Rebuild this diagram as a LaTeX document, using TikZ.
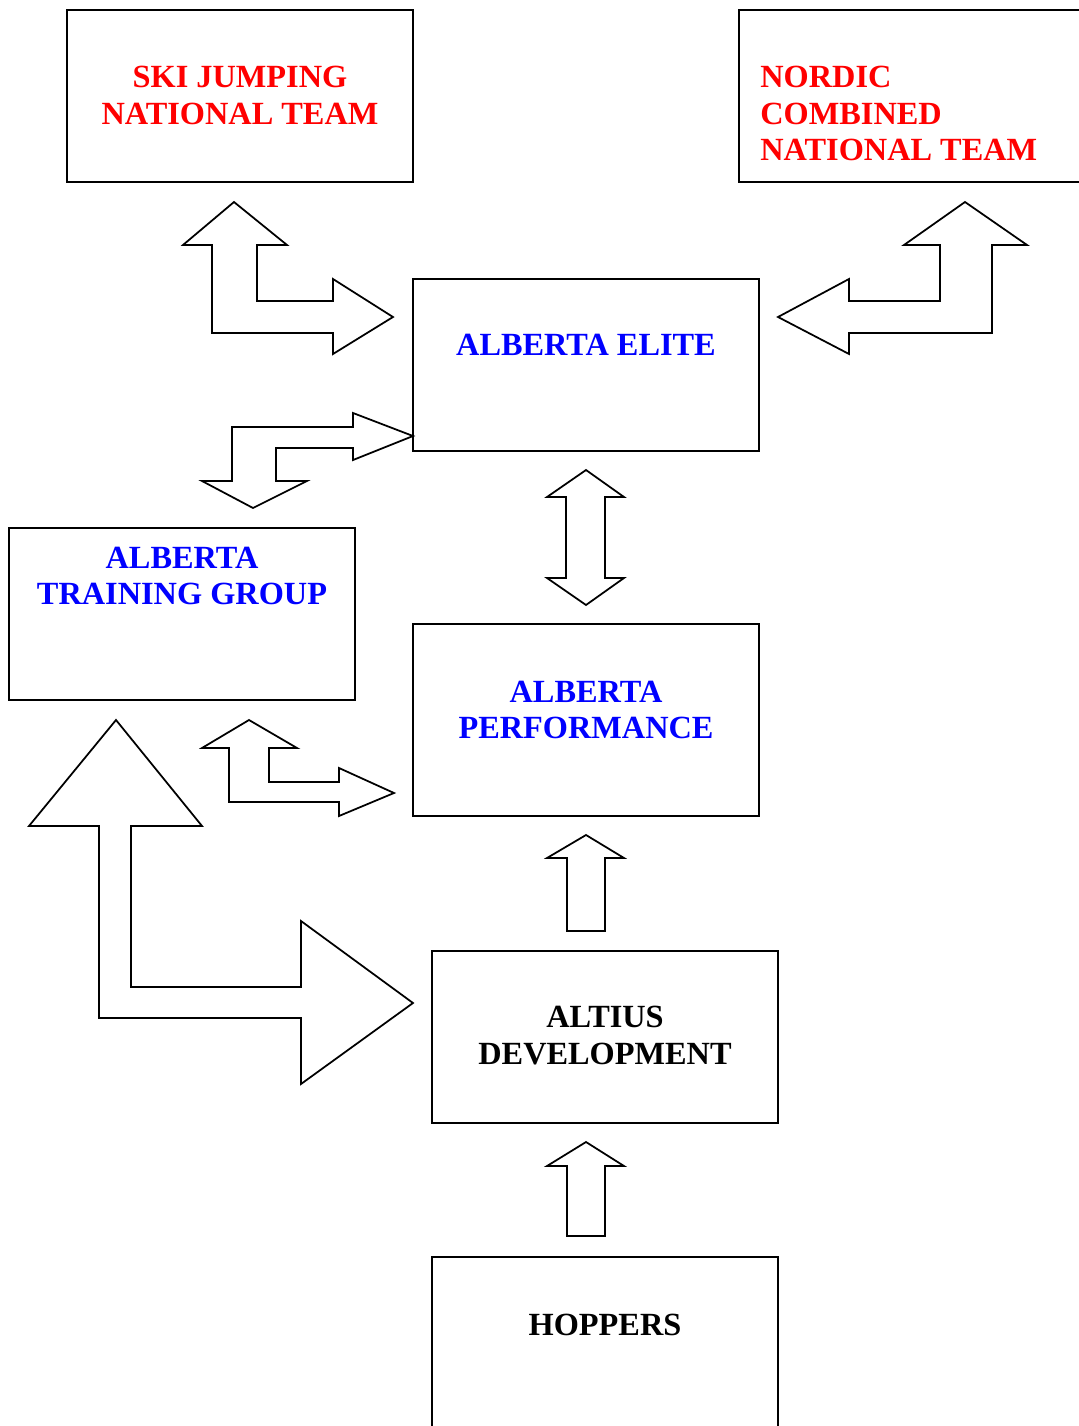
\documentclass[tikz,border=0pt]{standalone}
\usepackage{fontspec}
\setmainfont{Liberation Serif}
\definecolor{tred}{RGB}{255,0,0}
\definecolor{tblue}{RGB}{0,0,255}
\begin{document}
\begin{tikzpicture}[x=0.02cm,y=-0.02cm,
  box/.style={draw=black,line width=1.1pt,rectangle,anchor=north west,inner sep=0pt,outer sep=0pt,
    minimum width=6.92cm,minimum height=3.44cm},
  lbl/.style={inner sep=0pt,font=\fontsize{18.4}{21}\selectfont\bfseries,align=center},
  blockarrow/.style={draw=black,fill=white,line width=1pt,line join=miter}]
\useasboundingbox[fill=white] (0,0) rectangle (1078,1426);
% boxes
\node[box] (ski) at (67,10) {};
\node[box] (nordic) at (739,10) {};
\node[box] (elite) at (413,279) {};
\node[box] (training) at (9,528) {};
\node[box,minimum height=3.84cm] (perf) at (413,624) {};
\node[box] (altius) at (432,951) {};
\node[box,minimum height=4cm] (hoppers) at (432,1257) {};
% labels
\node[lbl,text=tred] (skit) at (240,95.5) {SKI JUMPING\\NATIONAL TEAM};
\node[lbl,text=tred,align=left,anchor=west] (nordict) at (760,113.5) {NORDIC\\COMBINED\\NATIONAL TEAM};
\node[lbl,text=tblue] (elitet) at (586,345) {ALBERTA ELITE};
\node[lbl,text=tblue] (trainingt) at (182,576) {ALBERTA\\TRAINING GROUP};
\node[lbl,text=tblue] (perft) at (586,710) {ALBERTA\\PERFORMANCE};
\node[lbl,text=black] (altiust) at (605,1035.5) {ALTIUS\\DEVELOPMENT};
\node[lbl,text=black] (hopperst) at (605,1325) {HOPPERS};
% block arrows
\draw[blockarrow] (234,202) -- (287,245) -- (257,245) -- (257,301) -- (333,301) -- (333,279) -- (393,317) -- (333,354) -- (333,333) -- (212,333) -- (212,245) -- (183,245) -- cycle;
\draw[blockarrow] (965,202) -- (1027,245) -- (992,245) -- (992,333) -- (849,333) -- (849,354) -- (778,317) -- (849,279) -- (849,301) -- (940,301) -- (940,245) -- (904,245) -- cycle;
\draw[blockarrow] (413,436) -- (353,460) -- (353,448) -- (276,448) -- (276,481) -- (307,481) -- (253,508) -- (202,481) -- (232,481) -- (232,427) -- (353,427) -- (353,413) -- cycle;
\draw[blockarrow] (586,470) -- (624,497) -- (605,497) -- (605,578) -- (624,578) -- (586,605) -- (547,578) -- (566,578) -- (566,497) -- (547,497) -- cycle;
\draw[blockarrow] (116,720) -- (202,826) -- (131,826) -- (131,987) -- (301,987) -- (301,921) -- (413,1003) -- (301,1084) -- (301,1018) -- (99,1018) -- (99,826) -- (29,826) -- cycle;
\draw[blockarrow] (249,720) -- (297,748) -- (269,748) -- (269,782) -- (339,782) -- (339,768) -- (394,793) -- (339,816) -- (339,802) -- (229,802) -- (229,748) -- (202,748) -- cycle;
\draw[blockarrow] (586,835) -- (624,858) -- (605,858) -- (605,931) -- (567,931) -- (567,858) -- (547,858) -- cycle;
\draw[blockarrow] (586,1142) -- (624,1166) -- (605,1166) -- (605,1236) -- (567,1236) -- (567,1166) -- (547,1166) -- cycle;
\end{tikzpicture}
\end{document}
